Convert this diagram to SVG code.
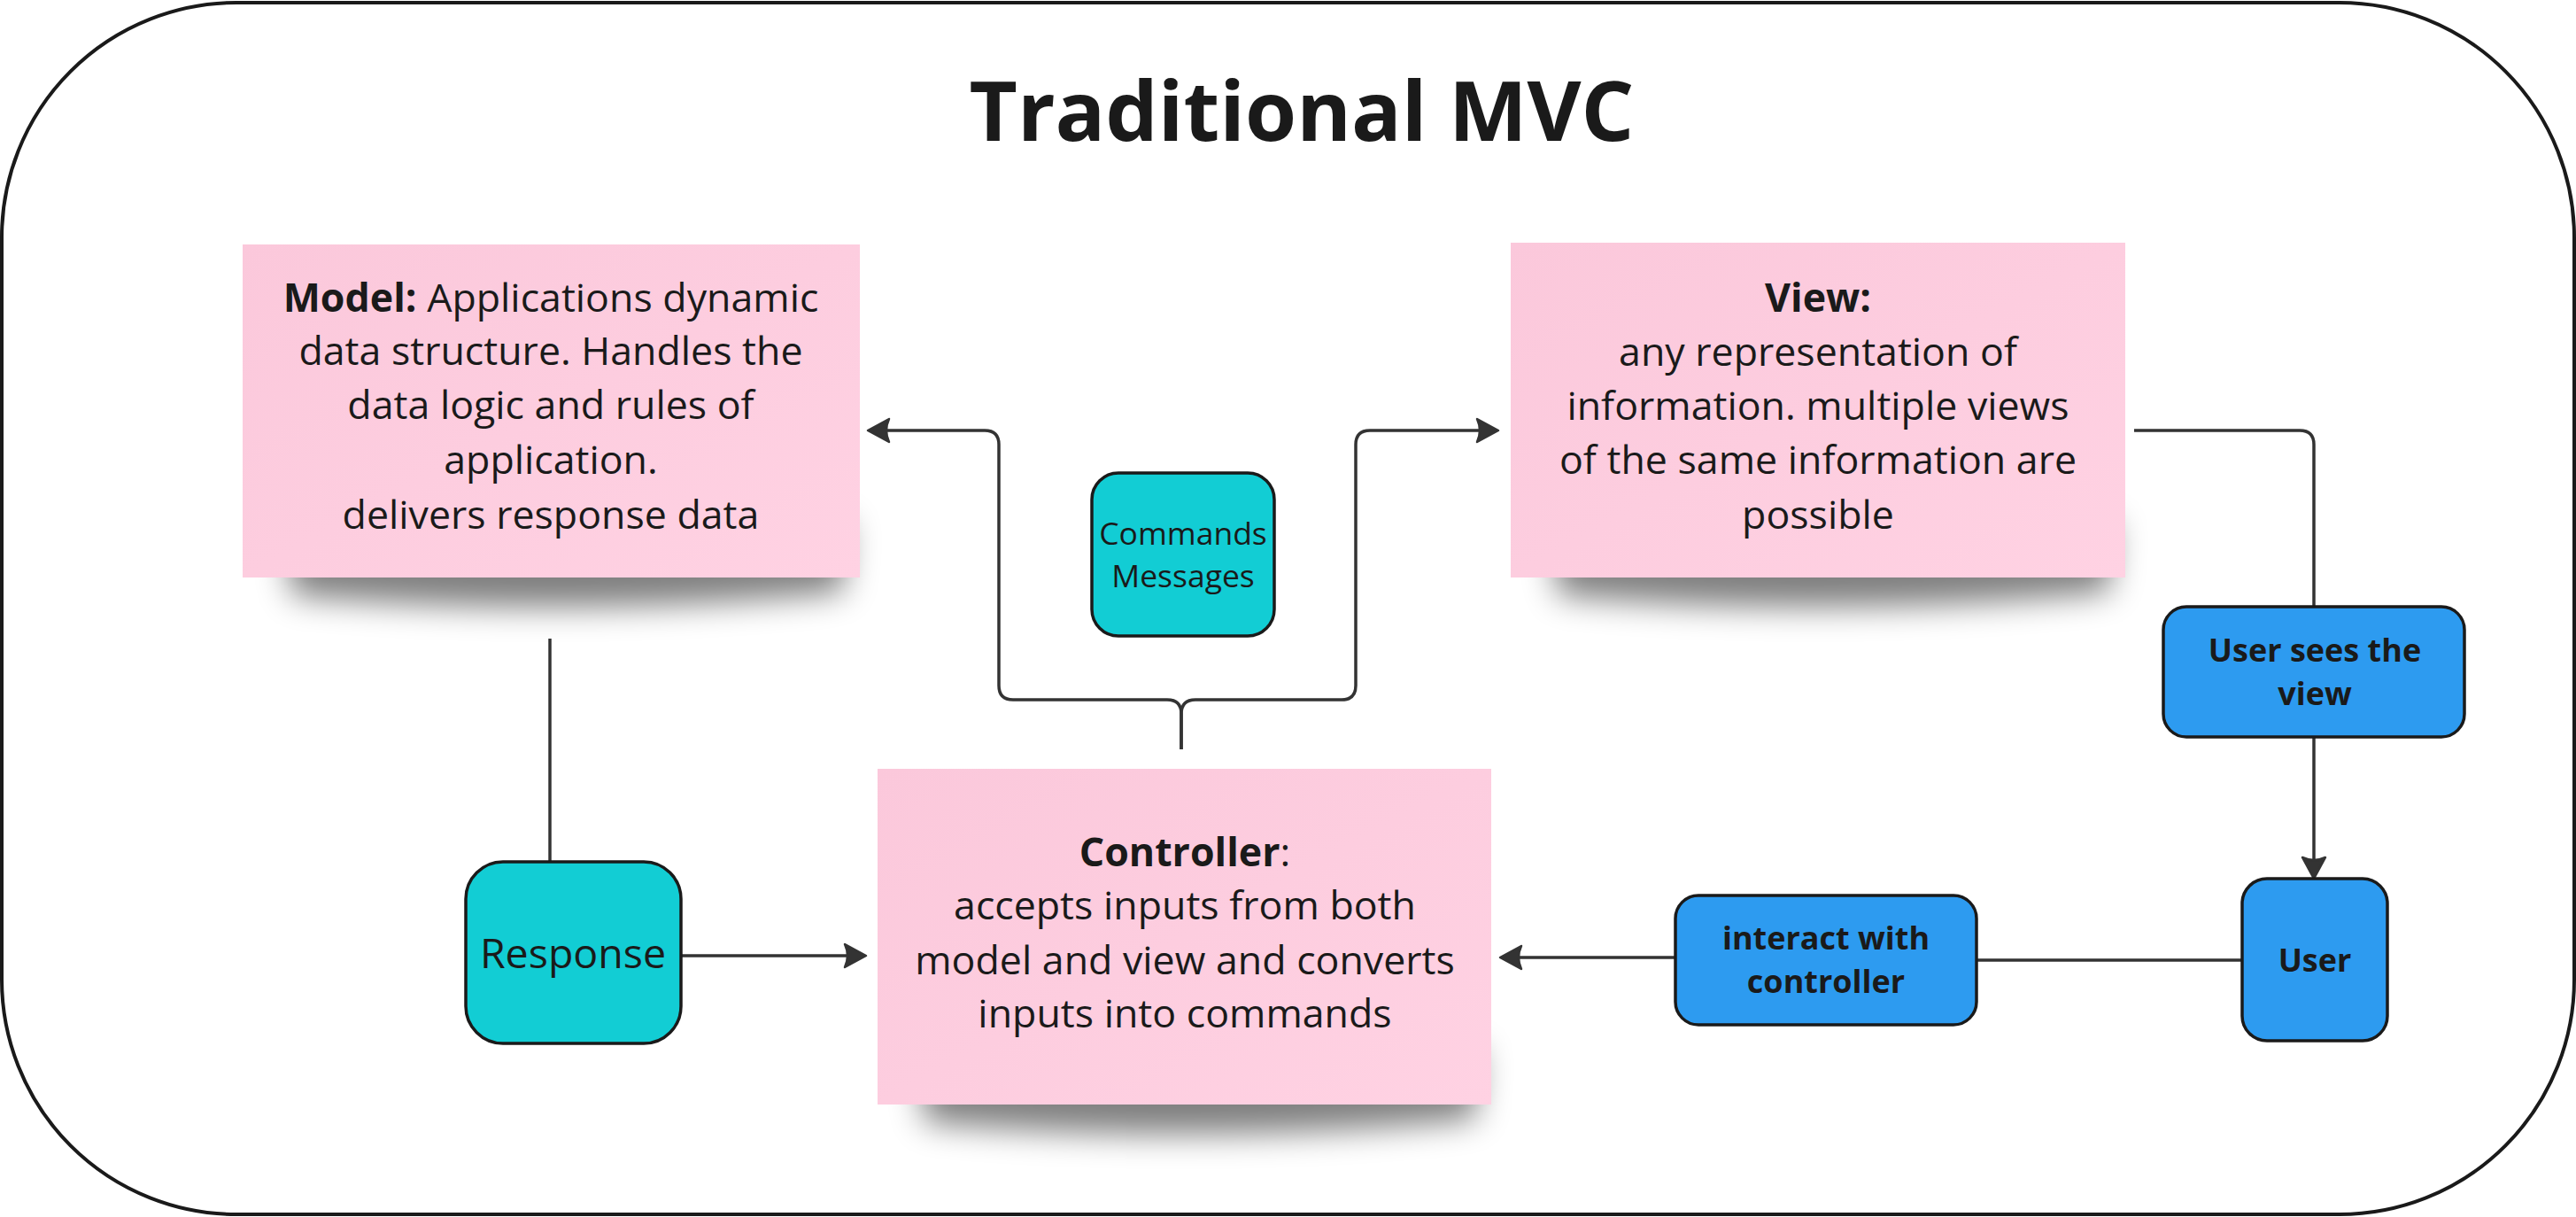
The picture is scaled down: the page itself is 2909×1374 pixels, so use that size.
<svg xmlns="http://www.w3.org/2000/svg" width="2909" height="1374" viewBox="0 0 2909 1374">
  <style>
    .t { font-family: "Open Sans", "Noto Sans", "Liberation Sans", sans-serif; fill: #1a1a1a; }
    .sticky-text { font-size: 44.7px; text-anchor: middle; }
    .b { font-weight: bold; }
    .note { fill: url(#pink); }
    .shadow { fill: #000; opacity: 0.5; filter: url(#blur); }
    .cyan { fill: #12CDD4; stroke: #1a1a1a; stroke-width: 3.5; }
    .blue { fill: #2D9BF0; stroke: #1a1a1a; stroke-width: 3.5; }
    .conn { fill: none; stroke: #333; stroke-width: 3.5; stroke-linejoin: round; }
    .lbl { font-size: 36px; font-weight: bold; text-anchor: middle; }
  </style>
  <defs>
    <linearGradient id="pink" x1="0" y1="0" x2="1" y2="1">
      <stop offset="0" stop-color="#FBC8DB"/>
      <stop offset="1" stop-color="#FFD2E3"/>
    </linearGradient>
    <filter id="blur" x="-20%" y="-60%" width="140%" height="220%">
      <feGaussianBlur stdDeviation="18"/>
    </filter>
    <marker id="arr" markerUnits="userSpaceOnUse" markerWidth="34" markerHeight="34" viewBox="-24 -17 34 34" refX="0" refY="0" orient="auto">
      <path d="M5,0 L-19,-13 Q-13,0 -19,13 Z" fill="#333" stroke="#333" stroke-width="2.5" stroke-linejoin="round"/>
    </marker>
  </defs>

  <rect id="frame" x="2" y="3" width="2905" height="1368" rx="265" ry="265" fill="#fff" stroke="#1a1a1a" stroke-width="4"/>

  <text id="title" class="t b" x="1470" y="159" font-size="94" text-anchor="middle">Traditional MVC</text>

  <g id="connectors">
    <path class="conn" d="M1334,846 V806 Q1334,790 1318,790 H1144 Q1128,790 1128,774 V502 Q1128,486 1112,486 H985" marker-end="url(#arr)"/>
    <path class="conn" d="M1334,846 V806 Q1334,790 1350,790 H1515 Q1531,790 1531,774 V502 Q1531,486 1547,486 H1687" marker-end="url(#arr)"/>
    <path class="conn" d="M2410,486 H2597 Q2613,486 2613,502 V685"/>
    <path class="conn" d="M2613,832 V987" marker-end="url(#arr)"/>
    <path class="conn" d="M2532,1084 H2232"/>
    <path class="conn" d="M1892,1081 H1699" marker-end="url(#arr)"/>
    <path class="conn" d="M621,721 V973"/>
    <path class="conn" d="M769,1079 H973" marker-end="url(#arr)"/>
  </g>

  <g id="model">
    <path class="shadow" d="M320,590 H958 L952,668 Q640,700 330,672 Z"/>
    <rect class="note" x="274" y="276" width="697" height="376"/>
    <text class="t sticky-text" x="622" y="352"><tspan class="b">Model:</tspan> Applications dynamic</text>
    <text class="t sticky-text" x="622" y="412">data structure. Handles the</text>
    <text class="t sticky-text" x="622" y="473">data logic and rules of</text>
    <text class="t sticky-text" x="622" y="535">application.</text>
    <text class="t sticky-text" x="622" y="597">delivers response data</text>
  </g>

  <g id="view">
    <path class="shadow" d="M1750,590 H2388 L2382,668 Q2070,700 1760,672 Z"/>
    <rect class="note" x="1706" y="274" width="694" height="378"/>
    <text class="t sticky-text b" x="2053" y="352">View:</text>
    <text class="t sticky-text" x="2053" y="413">any representation of</text>
    <text class="t sticky-text" x="2053" y="474">information. multiple views</text>
    <text class="t sticky-text" x="2053" y="535">of the same information are</text>
    <text class="t sticky-text" x="2053" y="597">possible</text>
  </g>

  <g id="controller">
    <path class="shadow" d="M1035,1185 H1672 L1666,1263 Q1355,1295 1045,1267 Z"/>
    <rect class="note" x="991" y="868" width="693" height="379"/>
    <text class="t sticky-text" x="1338" y="978"><tspan class="b">Controller</tspan>:</text>
    <text class="t sticky-text" x="1338" y="1038">accepts inputs from both</text>
    <text class="t sticky-text" x="1338" y="1100">model and view and converts</text>
    <text class="t sticky-text" x="1338" y="1160">inputs into commands</text>
  </g>

  <g id="commands">
    <rect class="cyan" x="1233" y="534" width="206" height="184" rx="30"/>
    <text class="t" x="1336" y="615" font-size="35.5" text-anchor="middle">Commands</text>
    <text class="t" x="1336" y="663" font-size="35.5" text-anchor="middle">Messages</text>
  </g>

  <g id="response">
    <rect class="cyan" x="526" y="973" width="243" height="205" rx="42"/>
    <text class="t" x="647" y="1093" font-size="46.5" text-anchor="middle">Response</text>
  </g>

  <g id="user-sees-view">
    <rect class="blue" x="2443" y="685" width="340" height="147" rx="26"/>
    <text class="t lbl" x="2614" y="747">User sees the</text>
    <text class="t lbl" x="2614" y="796">view</text>
  </g>

  <g id="user">
    <rect class="blue" x="2532" y="992" width="164" height="183" rx="28"/>
    <text class="t lbl" x="2614" y="1097">User</text>
  </g>

  <g id="interact">
    <rect class="blue" x="1892" y="1011" width="340" height="146" rx="26"/>
    <text class="t lbl" x="2062" y="1072">interact with</text>
    <text class="t lbl" x="2062" y="1121">controller</text>
  </g>
</svg>
